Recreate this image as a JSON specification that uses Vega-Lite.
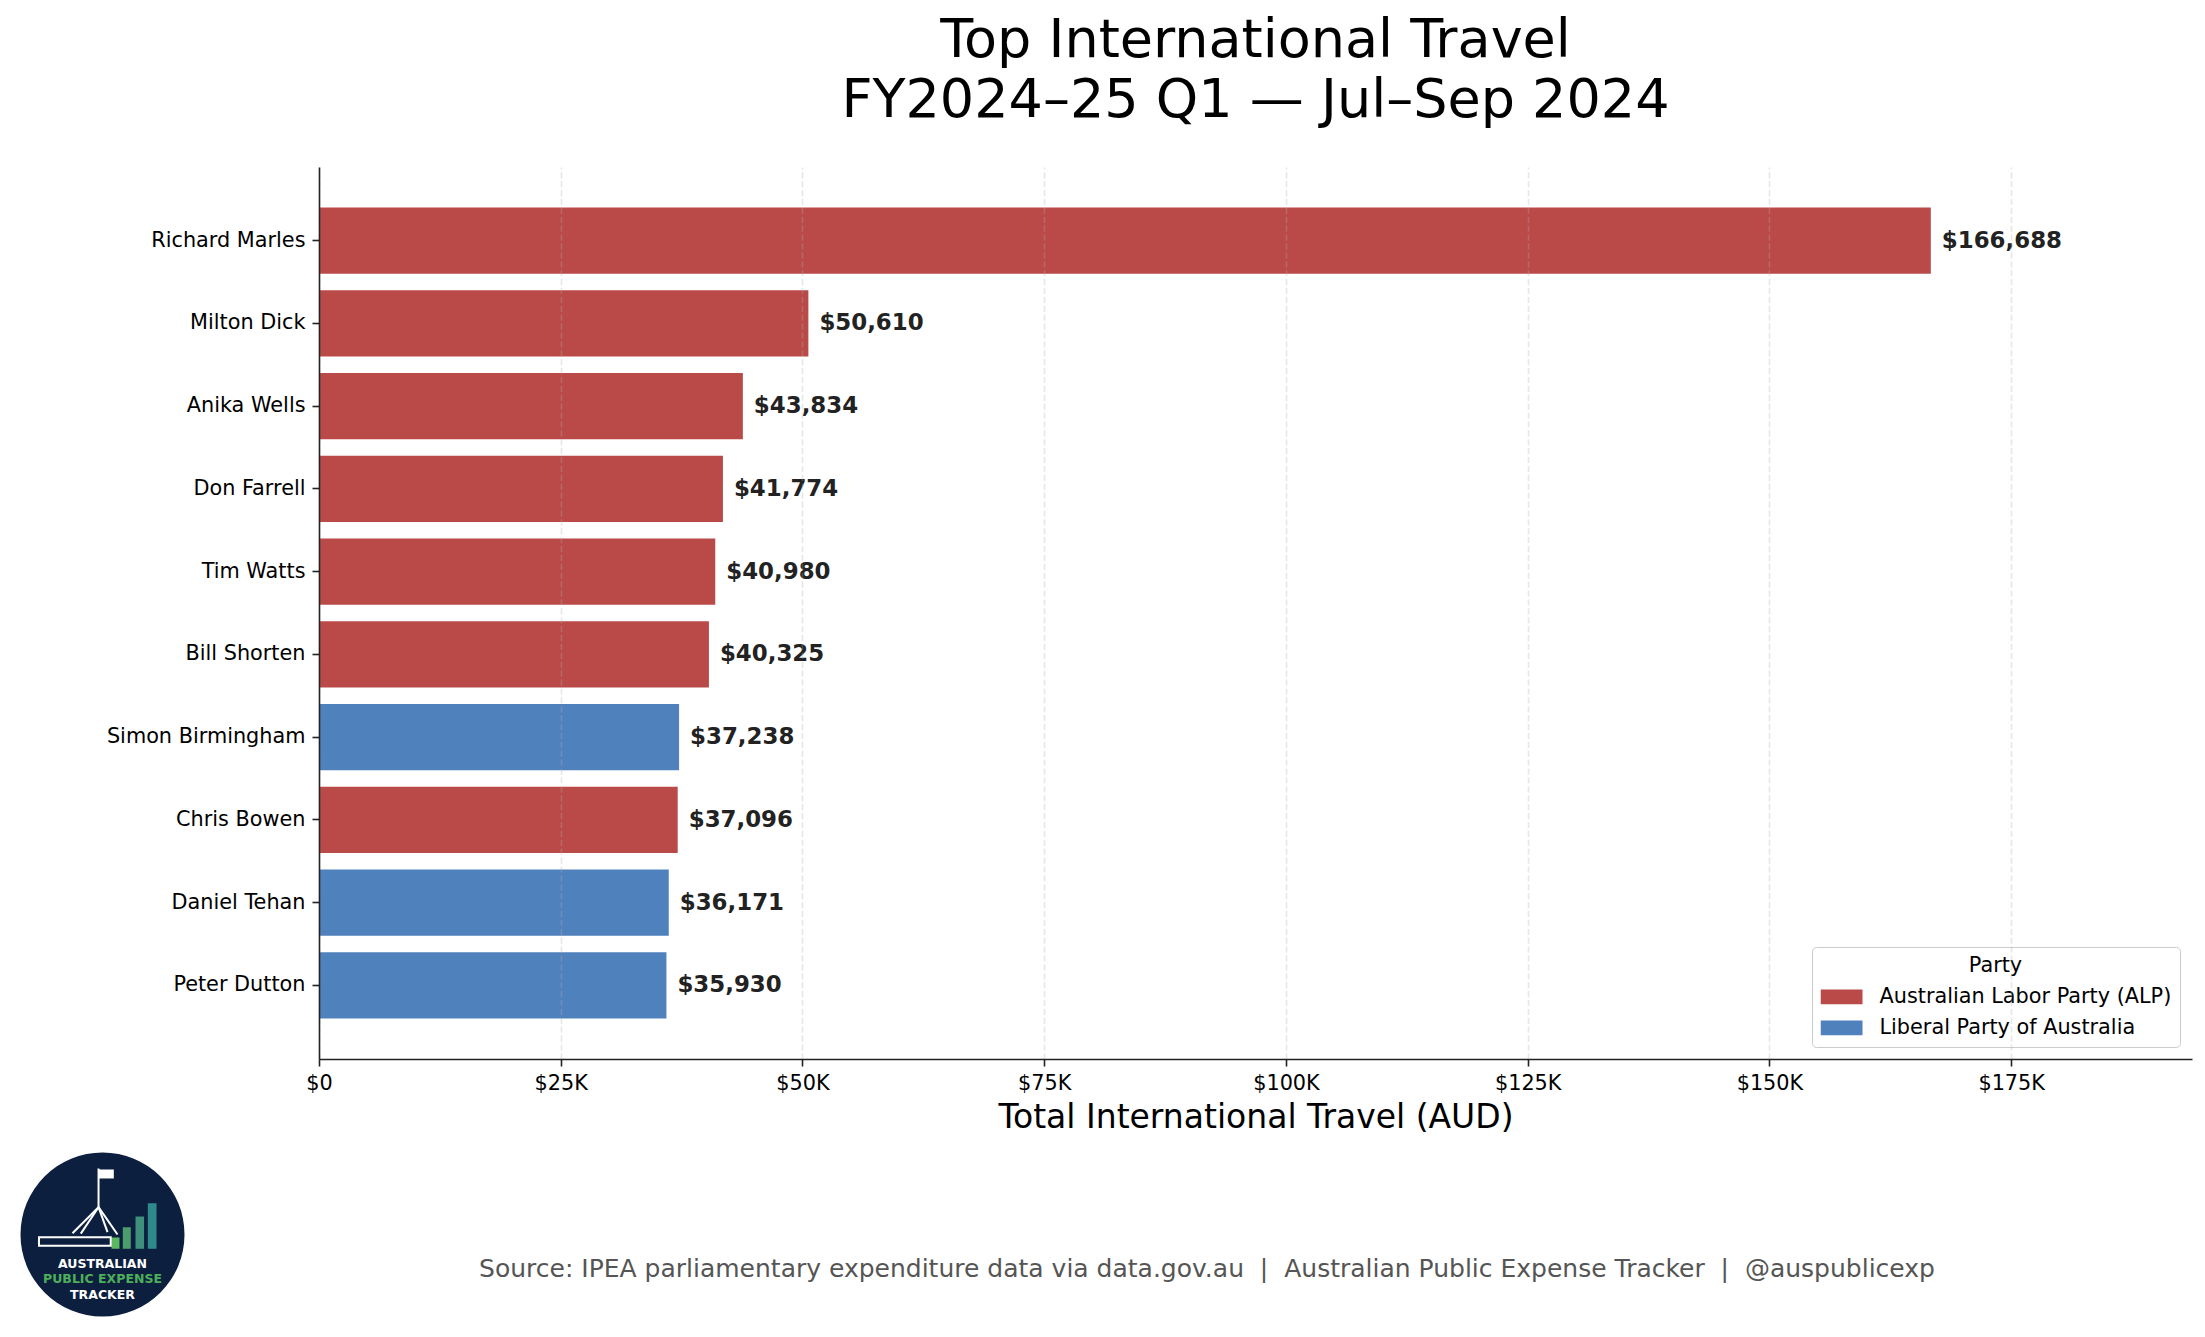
{
  "$schema": "https://vega.github.io/schema/vega-lite/v6.json",
  "background": "white",
  "padding": {"left": 20, "top": 14, "right": 13, "bottom": 0},
  "config": {
    "font": "DejaVu Sans",
    "view": {"stroke": null}
  },
  "spacing": 17,
  "resolve": {"scale": {"color": "independent"}, "legend": {"color": "independent"}},
  "vconcat": [
    {
      "spacing": 0,
      "resolve": {"scale": {"color": "independent"}, "legend": {"color": "independent"}},
      "hconcat": [
        {
          "width": 86,
          "height": 10,
          "data": {"values": [{"spacer": 1}]},
          "mark": {"type": "point", "opacity": 0}
        },
        {
          "width": 1873,
          "height": 892,
          "title": {
            "text": ["Top International Travel", "FY2024–25 Q1 — Jul–Sep 2024"],
            "fontSize": 54,
            "fontWeight": "normal",
            "color": "black",
            "lineHeight": 60,
            "anchor": "middle",
            "frame": "group",
            "offset": 39
          },
          "data": {
            "values": [
              {"name": "Richard Marles", "party": "Australian Labor Party (ALP)", "amount": 166688},
              {"name": "Milton Dick", "party": "Australian Labor Party (ALP)", "amount": 50610},
              {"name": "Anika Wells", "party": "Australian Labor Party (ALP)", "amount": 43834},
              {"name": "Don Farrell", "party": "Australian Labor Party (ALP)", "amount": 41774},
              {"name": "Tim Watts", "party": "Australian Labor Party (ALP)", "amount": 40980},
              {"name": "Bill Shorten", "party": "Australian Labor Party (ALP)", "amount": 40325},
              {"name": "Simon Birmingham", "party": "Liberal Party of Australia", "amount": 37238},
              {"name": "Chris Bowen", "party": "Australian Labor Party (ALP)", "amount": 37096},
              {"name": "Daniel Tehan", "party": "Liberal Party of Australia", "amount": 36171},
              {"name": "Peter Dutton", "party": "Liberal Party of Australia", "amount": 35930}
            ]
          },
          "encoding": {
            "y": {
              "field": "name",
              "type": "nominal",
              "sort": {"field": "amount", "order": "descending"},
              "scale": {"paddingInner": 0.2, "paddingOuter": 0.49},
              "axis": {
                "title": null,
                "labelFontSize": 20.8,
                "labelColor": "black",
                "labelPadding": 7,
                "labelLimit": 400,
                "tickSize": 7,
                "tickWidth": 1.6,
                "tickColor": "#222222",
                "domainColor": "#222222",
                "domainWidth": 1.6,
                "grid": false,
                "zindex": 1
              }
            },
            "x": {
              "field": "amount",
              "type": "quantitative",
              "scale": {"domain": [0, 193700], "nice": false},
              "axis": {
                "values": [0, 25000, 50000, 75000, 100000, 125000, 150000, 175000],
                "labelExpr": "datum.value == 0 ? '$0' : '$' + format(datum.value / 1000, 'd') + 'K'",
                "labelFlush": false,
                "labelFontSize": 20.8,
                "labelColor": "black",
                "labelPadding": 7,
                "tickSize": 7,
                "tickWidth": 1.6,
                "tickColor": "#222222",
                "domainColor": "#222222",
                "domainWidth": 1.6,
                "grid": true,
                "gridColor": "#b0b0b0",
                "gridOpacity": 0.3,
                "gridWidth": 1.6,
                "gridDash": [6.2, 2.7],
                "title": "Total International Travel (AUD)",
                "titleFontSize": 33,
                "titleFontWeight": "normal",
                "titleColor": "black",
                "titlePadding": 9,
                "zindex": 1
              }
            }
          },
          "layer": [
            {
              "mark": {"type": "bar"},
              "encoding": {
                "color": {
                  "field": "party",
                  "type": "nominal",
                  "scale": {
                    "domain": ["Australian Labor Party (ALP)", "Liberal Party of Australia"],
                    "range": ["#b94a48", "#4f81bd"]
                  },
                  "legend": {
                    "title": "Party",
                    "orient": "bottom-right",
                    "offset": 12,
                    "titleFontSize": 20.8,
                    "titleFontWeight": "normal",
                    "titleColor": "black",
                    "titleAnchor": "middle",
                    "titleAlign": "center",
                    "titlePadding": 10,
                    "labelFontSize": 20.8,
                    "labelColor": "black",
                    "labelLimit": 400,
                    "labelOffset": 17,
                    "symbolType": "M-1,-0.35H1V0.35H-1Z",
                    "symbolSize": 1764,
                    "symbolStrokeWidth": 0,
                    "symbolOpacity": 1,
                    "clipHeight": 21,
                    "rowPadding": 9,
                    "padding": 8.5,
                    "strokeColor": "#cccccc",
                    "fillColor": "rgba(255,255,255,0.8)",
                    "cornerRadius": 4
                  }
                }
              }
            },
            {
              "mark": {
                "type": "text",
                "align": "left",
                "baseline": "middle",
                "dx": 11,
                "fontSize": 22.9,
                "fontWeight": "bold",
                "color": "#222222"
              },
              "encoding": {
                "text": {"field": "amount", "type": "quantitative", "format": "$,.0f"}
              }
            }
          ]
        }
      ]
    },
    {
      "spacing": 0,
      "hconcat": [
        {
          "width": 165,
          "height": 165,
          "layer": [
            {
              "data": {"values": [{"part": "badge"}]},
              "mark": {"type": "point", "shape": "circle", "filled": true, "size": 26896, "color": "#0c1f3f", "opacity": 1, "strokeWidth": 0},
              "encoding": {}
            },
            {
              "data": {
                "values": [
                  {"k": 1, "x1": 0.109, "x2": 0.206, "y1": -0.173, "y2": -0.036},
                  {"k": 2, "x1": 0.246, "x2": 0.343, "y1": -0.173, "y2": 0.088},
                  {"k": 3, "x1": 0.4, "x2": 0.504, "y1": -0.173, "y2": 0.218},
                  {"k": 4, "x1": 0.549, "x2": 0.655, "y1": -0.173, "y2": 0.379}
                ]
              },
              "mark": {"type": "rect"},
              "encoding": {
                "x": {"field": "x1", "type": "quantitative", "scale": {"domain": [-1, 1], "nice": false, "zero": false}, "axis": null},
                "x2": {"field": "x2"},
                "y": {"field": "y1", "type": "quantitative", "scale": {"domain": [-1, 1], "nice": false, "zero": false}, "axis": null},
                "y2": {"field": "y2"},
                "color": {
                  "condition": [
                    {"test": "datum.k == 1", "value": "#5cb860"},
                    {"test": "datum.k == 2", "value": "#4a9e6e"},
                    {"test": "datum.k == 3", "value": "#3e8f7c"}
                  ],
                  "value": "#2e8a8c"
                }
              }
            },
            {
              "data": {
                "values": [
                  {"x1": -0.77, "x2": 0.1, "y1": -0.137, "y2": -0.033}
                ]
              },
              "mark": {"type": "rect", "fill": "#0c1f3f", "stroke": "white", "strokeWidth": 2},
              "encoding": {
                "x": {"field": "x1", "type": "quantitative", "scale": {"domain": [-1, 1], "nice": false, "zero": false}, "axis": null},
                "x2": {"field": "x2"},
                "y": {"field": "y1", "type": "quantitative", "scale": {"domain": [-1, 1], "nice": false, "zero": false}, "axis": null},
                "y2": {"field": "y2"}
              }
            },
            {
              "data": {
                "values": [
                  {"x1": -0.045, "x2": 0.137, "y1": 0.679, "y2": 0.788}
                ]
              },
              "mark": {"type": "rect", "fill": "white"},
              "encoding": {
                "x": {"field": "x1", "type": "quantitative", "scale": {"domain": [-1, 1], "nice": false, "zero": false}, "axis": null},
                "x2": {"field": "x2"},
                "y": {"field": "y1", "type": "quantitative", "scale": {"domain": [-1, 1], "nice": false, "zero": false}, "axis": null},
                "y2": {"field": "y2"}
              }
            },
            {
              "data": {
                "values": [
                  {"x1": -0.048, "y1": 0.331, "x2": -0.048, "y2": 0.8},
                  {"x1": -0.048, "y1": 0.331, "x2": -0.364, "y2": 0.016},
                  {"x1": -0.048, "y1": 0.331, "x2": -0.263, "y2": 0.01},
                  {"x1": -0.048, "y1": 0.331, "x2": 0.061, "y2": 0.028},
                  {"x1": -0.048, "y1": 0.331, "x2": 0.182, "y2": 0.0}
                ]
              },
              "mark": {"type": "rule", "color": "white", "strokeWidth": 2},
              "encoding": {
                "x": {"field": "x1", "type": "quantitative", "scale": {"domain": [-1, 1], "nice": false, "zero": false}, "axis": null},
                "x2": {"field": "x2"},
                "y": {"field": "y1", "type": "quantitative", "scale": {"domain": [-1, 1], "nice": false, "zero": false}, "axis": null},
                "y2": {"field": "y2"}
              }
            },
            {
              "data": {
                "values": [
                  {"t": "AUSTRALIAN", "ly": -0.355},
                  {"t": "PUBLIC EXPENSE", "ly": -0.537},
                  {"t": "TRACKER", "ly": -0.731}
                ]
              },
              "mark": {"type": "text", "align": "center", "baseline": "middle", "fontSize": 12.5, "fontWeight": "bold"},
              "encoding": {
                "y": {"field": "ly", "type": "quantitative", "scale": {"domain": [-1, 1], "nice": false, "zero": false}, "axis": null},
                "text": {"field": "t"},
                "color": {
                  "condition": {"test": "datum.t == 'PUBLIC EXPENSE'", "value": "#4cb05a"},
                  "value": "white"
                }
              }
            }
          ]
        },
        {
          "width": 2000,
          "height": 165,
          "data": {
            "values": [
              {"note": "Source: IPEA parliamentary expenditure data via data.gov.au \u00a0|\u00a0 Australian Public Expense Tracker \u00a0|\u00a0 @auspublicexp"}
            ]
          },
          "mark": {
            "type": "text",
            "align": "center",
            "baseline": "middle",
            "dx": 22,
            "dy": 34,
            "fontSize": 25,
            "color": "#555555"
          },
          "encoding": {
            "text": {"field": "note"}
          }
        }
      ]
    }
  ]
}
